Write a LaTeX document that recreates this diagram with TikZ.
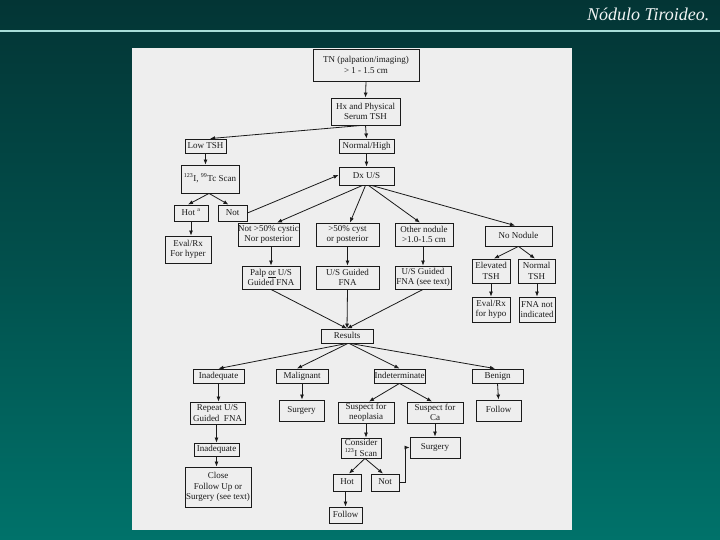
\documentclass[tikz,border=0pt]{standalone}
\usepackage{fontspec}
\setmainfont{Liberation Serif}
\usetikzlibrary{arrows.meta,calc}
\definecolor{bgtop}{HTML}{033535}
\definecolor{bgbot}{HTML}{00726A}
\definecolor{panel}{HTML}{EEEEEE}
\definecolor{ink}{HTML}{1A1A1A}
\definecolor{rule}{HTML}{A8DED8}
\definecolor{titlecol}{HTML}{F0F4F4}
\tikzset{
  fbox/.style={draw=ink, fill=panel, line width=0.85pt, align=center, inner sep=0pt,
    text=ink, font=\fontsize{9}{10.5}\selectfont},
  onel/.style={fbox, text height=6.3pt, text depth=1.9pt},
  arr/.style={draw=ink, line width=0.8pt, -{Latex[length=5pt,width=4pt]}},
}
\newcommand{\bx}[5]{\node[fbox, minimum width=#3pt, minimum height=#4pt] (#1) at (#2) {#5};}
\newcommand{\bs}[5]{\node[onel, minimum width=#3pt, minimum height=#4pt] (#1) at (#2) {#5};}
\begin{document}
\begin{tikzpicture}[x=1pt,y=-1pt]
\useasboundingbox (0,0) rectangle (720,540);
\shade[top color=bgtop, bottom color=bgbot, middle color=bgtop!55!bgbot] (0,0) rectangle (720,540);
\draw[rule, line width=1.3pt] (0,31) -- (720,31);
\node[anchor=base east, text=titlecol, font=\fontsize{18}{20}\selectfont\itshape] (title) at (713,21) {Nódulo Tiroideo.};
\fill[panel] (132,48) rectangle (572,530);
% nodes
\bx{TN}{366,65}{106}{32}{TN (palpation/imaging)\\ > 1 - 1.5 cm}
\bx{Hx}{365.5,111.5}{69}{27}{Hx and Physical\\ Serum TSH}
\bs{LowTSH}{205.5,146}{41}{14}{Low TSH}
\bs{NormHigh}{366.5,146}{55}{14}{Normal/High}
\bs{Scan}{210,179}{58}{28}{\textsuperscript{123}I, \textsuperscript{99}Tc Scan}
\bs{Dx}{366.5,176}{55}{18}{Dx U/S}
\bs{HotA}{191,213}{34}{16}{Hot \textsuperscript{a}}
\bs{NotA}{232.5,213}{29}{16}{Not}
\bx{EvalHyper}{188,249.5}{46}{27}{Eval/Rx\\ For hyper}
\bx{Cystic}{268.5,234.5}{61}{23}{Not >50\% cystic\\ Nor posterior}
\bx{Cyst}{347.5,234.5}{63}{23}{>50\% cyst\\ or posterior}
\bx{Other}{424,234.5}{58}{23}{Other nodule\\ >1.0-1.5 cm}
\bs{NoNod}{518.5,236}{67}{20}{No Nodule}
\bx{Palp}{271,277.5}{58}{23}{Palp \underline{or} U/S\\ Guided FNA}
\bx{USG}{347.5,277.5}{63}{23}{U/S Guided\\ FNA}
\bx{USGT}{423,277.5}{56}{23}{U/S Guided\\ FNA (see text)}
\bx{Elev}{491,271}{38}{24}{Elevated\\ TSH}
\bx{NormTSH}{536.5,271}{37}{24}{Normal\\ TSH}
\bx{EvalHypo}{491,309.5}{38}{25}{Eval/Rx\\ for hypo}
\bx{FNAnot}{537,309.5}{36}{25}{FNA not\\ indicated}
\bs{Results}{347,336}{52}{14}{Results}
\bs{Inad}{218.5,376}{51}{14}{Inadequate}
\bs{Malig}{302,376}{52}{14}{Malignant}
\bs{Indet}{399.5,376}{51}{14}{Indeterminate}
\bs{Benign}{497.5,376}{51}{14}{Benign}
\bx{Repeat}{217.5,413}{55}{22}{Repeat U/S\\ Guided\ \ FNA}
\bs{SurgM}{301.5,410.5}{45}{21}{Surgery}
\bx{SuspN}{366,412.5}{56}{21}{Suspect for\\ neoplasia}
\bx{SuspCa}{435,412.5}{56}{21}{Suspect for\\ Ca}
\bs{FollowB}{498.5,410.5}{45}{21}{Follow}
\bs{Inad2}{216.5,449.5}{45}{13}{Inadequate}
\bx{Close}{218,487}{66}{40}{Close\\ Follow Up or\\ Surgery (see text)}
\bx{Consider}{361,448}{40}{20}{Consider\\ \textsuperscript{123}I Scan}
\bs{SurgCa}{435,447.5}{50}{21}{Surgery}
\bs{Hot}{347,482.5}{28}{17}{Hot}
\bs{Not}{385,482.5}{28}{17}{Not}
\bs{FollowH}{345.5,515}{33}{16}{Follow}
% connectors
\draw[arr] (TN.south) -- (Hx.north);
\draw[arr] ([xshift=-4pt]Hx.south) -- ([xshift=4.5pt]LowTSH.north);
\draw[arr] (Hx.south) -- (NormHigh.north);
\draw[arr] (LowTSH.south) -- (LowTSH.south |- Scan.north);
\draw[arr] (NormHigh.south) -- (Dx.north);
\draw[arr] ([xshift=-1pt]Scan.south) -- ([xshift=-3pt]HotA.north);
\draw[arr] ([xshift=-1pt]Scan.south) -- ([xshift=-4pt]NotA.north);
\draw[arr] (NotA.east) -- ([yshift=1pt]Dx.west);
\draw[arr] (HotA.south) -- (HotA.south |- EvalHyper.north);
\draw[arr] ([xshift=-4pt]Dx.south) -- ([xshift=8.5pt]Cystic.north);
\draw[arr] ([xshift=-1pt]Dx.south) -- ([xshift=2.5pt]Cyst.north);
\draw[arr] ([xshift=2pt]Dx.south) -- ([xshift=-4pt]Other.north);
\draw[arr] ([xshift=5pt]Dx.south) -- ([xshift=-3.5pt]NoNod.north);
\draw[arr] (Palp.north |- Cystic.south) -- (Palp.north);
\draw[arr] (Cyst.south) -- (USG.north);
\draw[arr] (USGT.north |- Other.south) -- (USGT.north);
\draw[arr] (NoNod.south) -- ([xshift=3pt]Elev.north);
\draw[arr] (NoNod.south) -- ([xshift=-1.5pt]NormTSH.north);
\draw[arr] (Elev.south) -- (EvalHypo.north);
\draw[arr] (FNAnot.north |- NormTSH.south) -- (FNAnot.north);
\draw[arr] (Palp.south) -- (Results.north);
\draw[arr] (USG.south) -- (Results.north);
\draw[arr] (USGT.south) -- (Results.north);
\draw[arr] (Results.south) -- (Inad.north);
\draw[arr] ([xshift=1pt]Results.south) -- ([xshift=-5pt]Malig.north);
\draw[arr] ([xshift=2pt]Results.south) -- (Indet.north);
\draw[arr] ([xshift=3pt]Results.south) -- ([xshift=-2.5pt]Benign.north);
\draw[arr] (Inad.south) -- (Inad.south |- Repeat.north);
\draw[arr] (Malig.south) -- (Malig.south |- SurgM.north);
\draw[arr] (Indet.south) -- ([xshift=3pt]SuspN.north);
\draw[arr] (Indet.south) -- ([xshift=-3pt]SuspCa.north);
\draw[arr] (Benign.south) -- (FollowB.north);
\draw[arr] (Inad2.north |- Repeat.south) -- (Inad2.north);
\draw[arr] (Inad2.south) -- (Inad2.south |- Close.north);
\draw[arr] (SuspN.south) -- (SuspN.south |- Consider.north);
\draw[arr] (SuspCa.south) -- (SurgCa.north);
\draw[arr] ([xshift=4pt]Consider.south) -- ([xshift=2pt]Hot.north);
\draw[arr] ([xshift=4pt]Consider.south) -- ([xshift=-2pt]Not.north);
\draw[arr] (Not.east) -- ++(6pt,0) |- (SurgCa.west);
\draw[arr] (FollowH.north |- Hot.south) -- (FollowH.north);
\end{tikzpicture}
\end{document}
